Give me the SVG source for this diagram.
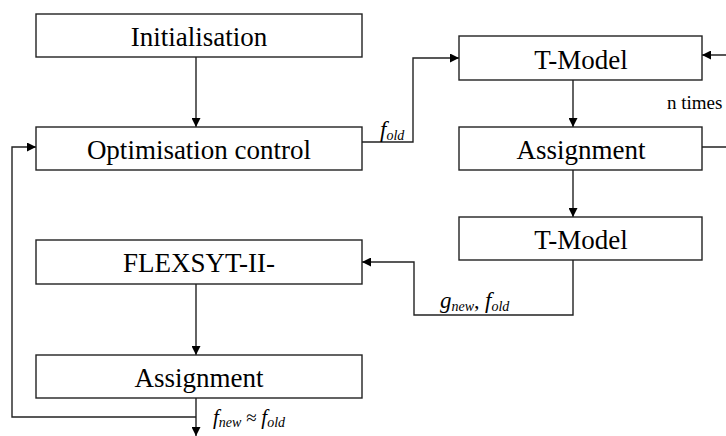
<svg xmlns="http://www.w3.org/2000/svg" width="726" height="436" viewBox="0 0 726 436">
<style>
.box{fill:#fff;stroke:#222;stroke-width:1.4}
.lbl{font-family:'Liberation Serif',serif;font-size:27px;fill:#000;text-anchor:middle}
.con{fill:none;stroke:#222;stroke-width:1.4}
.m{font-family:'Liberation Serif',serif;font-style:italic;fill:#000}
.t{font-family:'Liberation Serif',serif;fill:#000}
</style>
<defs>
<marker id="ah" viewBox="0 0 10 10" refX="10" refY="5" markerWidth="10" markerHeight="9" markerUnits="userSpaceOnUse" orient="auto">
<path d="M0,0 L10,5 L0,10 z" fill="#000"/>
</marker>
</defs>
<rect width="726" height="436" fill="#fff"/>
<g id="connectors">
<path class="con" d="M196,57 V127" marker-end="url(#ah)"/>
<path class="con" d="M362,142 H413 V58 H459" marker-end="url(#ah)"/>
<path class="con" d="M573,80 V127" marker-end="url(#ah)"/>
<path class="con" d="M573,170 V217" marker-end="url(#ah)"/>
<path class="con" d="M702,147 H740 V55 H702" marker-end="url(#ah)"/>
<path class="con" d="M573,260 V315 H414 V262 H362" marker-end="url(#ah)"/>
<path class="con" d="M196,284 V355" marker-end="url(#ah)"/>
<path class="con" d="M196,398 V436" marker-end="url(#ah)"/>
<path class="con" d="M196,417 H12 V147 H36" marker-end="url(#ah)"/>
<text class="m" x="380" y="137" font-size="23">f<tspan font-size="14" dy="3">old</tspan></text>
<text class="t" x="667" y="109" font-size="19">n times</text>
<text class="m" x="440" y="308" font-size="23">g<tspan font-size="14" dy="3">new</tspan><tspan font-size="22" dy="-3" font-style="normal">, </tspan>f<tspan font-size="14" dy="3">old</tspan></text>
<text class="m" x="213" y="424" font-size="21">f<tspan font-size="14" dy="3">new</tspan><tspan font-size="19" dy="-3" font-style="normal"> ≈ </tspan>f<tspan font-size="14" dy="3">old</tspan></text>
</g>
<g id="initialisation"><rect class="box" x="36" y="14" width="326" height="43"/><text class="lbl" x="199" y="46">Initialisation</text></g>
<g id="optimisation-control"><rect class="box" x="36" y="127" width="326" height="43"/><text class="lbl" x="199" y="159">Optimisation control</text></g>
<g id="flexsyt"><rect class="box" x="36" y="240" width="326" height="44"/><text class="lbl" x="199" y="272">FLEXSYT-II-</text></g>
<g id="assignment-left"><rect class="box" x="36" y="355" width="326" height="43"/><text class="lbl" x="199" y="387">Assignment</text></g>
<g id="t-model-1"><rect class="box" x="459" y="36" width="243" height="44"/><text class="lbl" x="581" y="69">T-Model</text></g>
<g id="assignment-right"><rect class="box" x="459" y="127" width="243" height="43"/><text class="lbl" x="581" y="159">Assignment</text></g>
<g id="t-model-2"><rect class="box" x="459" y="217" width="243" height="43"/><text class="lbl" x="581" y="249">T-Model</text></g>
</svg>
